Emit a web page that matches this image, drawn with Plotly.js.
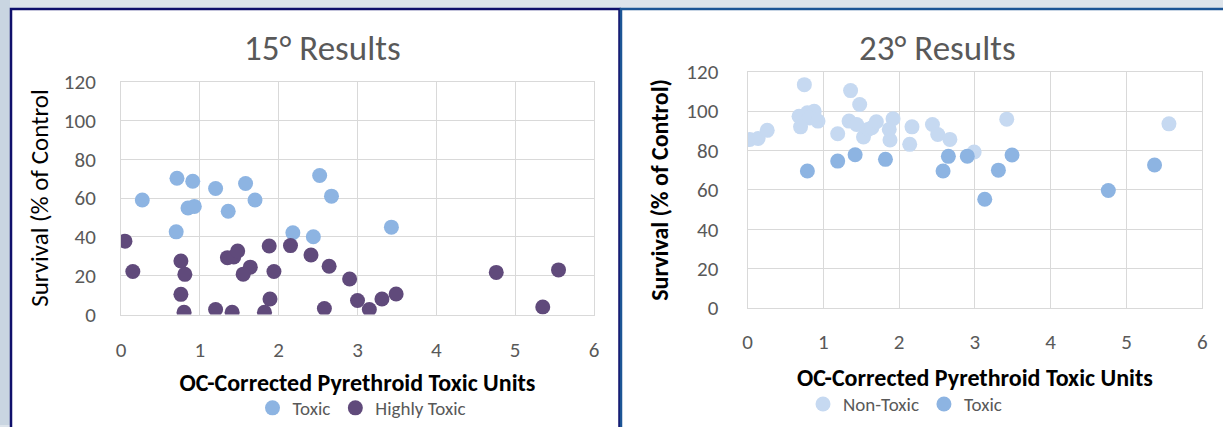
<!DOCTYPE html>
<html>
<head>
<meta charset="utf-8">
<script src="https://cdn.plot.ly/plotly-3.0.1.min.js"></script>
<style>html,body{margin:0;padding:0;background:#dde4eb;}#chart{width:1223px;height:427px;}</style>
</head>
<body>
<div id="chart"></div>
<script>
// 15° chart data
const x15Toxic = [0.27,0.71,0.91,0.85,0.93,0.70,1.20,1.58,1.36,1.70,2.52,2.67,2.18,2.44,3.43];
const y15Toxic = [59.0,70.2,68.7,54.9,55.7,42.6,64.9,67.5,53.2,59.0,71.6,61.0,42.1,40.1,45.0];
const x15High = [0.05,0.15,0.76,0.81,0.76,0.80,1.20,1.41,1.35,1.43,1.48,1.64,1.55,1.88,1.94,1.89,1.82,2.15,2.41,2.64,2.58,2.90,3.00,3.15,3.31,3.49,4.76,5.55,5.35];
const y15High = [37.8,22.2,27.6,20.7,10.4,1.2,2.6,1.2,29.3,29.6,32.7,24.4,20.8,35.3,22.2,8.0,1.2,35.5,30.7,24.9,3.1,18.3,7.2,2.6,8.0,10.6,21.7,23.0,3.9];
// 23° chart data
const x23Non = [0.03,0.14,0.26,0.75,0.68,0.79,0.88,0.82,0.93,0.70,1.36,1.48,1.19,1.34,1.44,1.53,1.59,1.64,1.70,1.92,1.87,1.88,2.17,2.14,2.44,2.51,2.67,2.99,3.42,5.56];
const y23Non = [85.6,86.1,90.2,113.4,97.4,99.1,99.9,96.5,94.9,92.0,110.4,103.3,88.5,94.9,93.2,86.8,90.7,91.5,94.6,96.1,90.7,85.3,92.0,83.1,93.2,88.1,85.6,79.2,95.9,93.5];
const x23Toxic = [0.79,1.19,1.42,1.82,2.65,2.58,2.90,3.31,3.49,3.13,4.76,5.37];
const y23Toxic = [69.6,74.6,77.8,75.5,77.0,69.6,77.1,70.0,77.7,55.2,59.7,72.6];
const xTicks = [0,1,2,3,4,5,6];
const yTicks = [0,20,40,60,80,100,120];
const titles = ["15° Results","23° Results"];
const xTitle = "OC-Corrected Pyrethroid Toxic Units";

const W = 1223, H = 427;
const px = v => v / W;
const py = v => 1 - v / H;
const FONT = "Carlito, Calibri, Lato, sans-serif";
const C_TOXIC = "#8DB4E2", C_HIGH = "#604A7B", C_NON = "#C6D9F1";

const traces = [
  {x: x15Toxic, y: y15Toxic, type: "scatter", mode: "markers", name: "Toxic",
   marker: {color: C_TOXIC, size: 15}, xaxis: "x", yaxis: "y", legend: "legend"},
  {x: x15High, y: y15High, type: "scatter", mode: "markers", name: "Highly Toxic",
   marker: {color: C_HIGH, size: 15}, xaxis: "x", yaxis: "y", legend: "legend"},
  {x: x23Non, y: y23Non, type: "scatter", mode: "markers", name: "Non-Toxic",
   marker: {color: C_NON, size: 15}, xaxis: "x2", yaxis: "y2", legend: "legend2"},
  {x: x23Toxic, y: y23Toxic, type: "scatter", mode: "markers", name: "Toxic",
   marker: {color: C_TOXIC, size: 15}, xaxis: "x2", yaxis: "y2", legend: "legend2"}
];

function xa(domain, anchor, ticklen, standoff) {
  return {domain: domain, anchor: anchor, range: [0, 6], tickvals: xTicks, ticktext: xTicks.map(String),
    showgrid: true, gridcolor: "#d9d9d9", gridwidth: 1, zeroline: false,
    showline: true, linecolor: "#d9d9d9", linewidth: 1, mirror: true,
    ticks: "outside", ticklen: ticklen, tickcolor: "rgba(0,0,0,0)",
    tickfont: {family: FONT, size: 21, color: "#595959"},
    title: {text: xTitle, standoff: standoff, font: {family: FONT, size: 24, color: "#000", weight: "bold"}},
    fixedrange: true, automargin: false};
}
function ya(domain, anchor, ticklen, title, bold, size, standoff) {
  return {domain: domain, anchor: anchor, range: [0, 120], tickvals: yTicks, ticktext: yTicks.map(String),
    showgrid: true, gridcolor: "#d9d9d9", gridwidth: 1, zeroline: false,
    showline: true, linecolor: "#d9d9d9", linewidth: 1, mirror: true,
    ticks: "outside", ticklen: ticklen, tickcolor: "rgba(0,0,0,0)",
    tickfont: {family: FONT, size: 21, color: "#595959"},
    title: {text: title, standoff: standoff, font: {family: FONT, size: size, color: "#000", weight: bold ? "bold" : "normal"}},
    fixedrange: true, automargin: false};
}

const layout = {
  width: W, height: H,
  margin: {l: 0, r: 0, t: 0, b: 0},
  paper_bgcolor: "#dde4eb",
  plot_bgcolor: "rgba(0,0,0,0)",
  font: {family: FONT},
  xaxis: xa([px(121), px(594)], "y", 16, 12),
  yaxis: ya([py(316), py(82)], "x", 20, "Survival (% of Control", false, 25, 8),
  xaxis2: xa([px(747.5), px(1202.3)], "y2", 15, 14),
  yaxis2: ya([py(309.5), py(72)], "x2", 24, "Survival (% of Control)", true, 24, 10),
  legend: {orientation: "h", x: px(362), xanchor: "center", y: py(410), yanchor: "middle",
    bgcolor: "rgba(0,0,0,0)", font: {family: FONT, size: 19, color: "#595959"}, itemwidth: 30},
  legend2: {orientation: "h", x: px(905), xanchor: "center", y: py(406), yanchor: "middle",
    bgcolor: "rgba(0,0,0,0)", font: {family: FONT, size: 19, color: "#595959"}, itemwidth: 30},
  annotations: [
    {text: titles[0], xref: "paper", yref: "paper", x: px(322), y: py(48), xanchor: "center", yanchor: "middle",
     showarrow: false, font: {family: FONT, size: 35, color: "#595959"}},
    {text: titles[1], xref: "paper", yref: "paper", x: px(937), y: py(48), xanchor: "center", yanchor: "middle",
     showarrow: false, font: {family: FONT, size: 35, color: "#595959"}}
  ],
  shapes: [
    {type: "rect", xref: "paper", yref: "paper", x0: px(0), x1: px(10), y0: py(0), y1: py(H), fillcolor: "#c9d5e1", line: {width: 0}, layer: "below"},
    {type: "rect", xref: "paper", yref: "paper", x0: px(11), x1: px(619.5), y0: py(9), y1: py(432), fillcolor: "#ffffff", line: {color: "#0f0f6b", width: 2.5}, layer: "below"},
    {type: "rect", xref: "paper", yref: "paper", x0: px(621), x1: px(1228), y0: py(9), y1: py(432), fillcolor: "#ffffff", line: {color: "#1c5595", width: 2.5}, layer: "below"}
  ],
  showlegend: true
};

Plotly.newPlot("chart", traces, layout, {displayModeBar: false, staticPlot: true});
</script>
</body>
</html>
